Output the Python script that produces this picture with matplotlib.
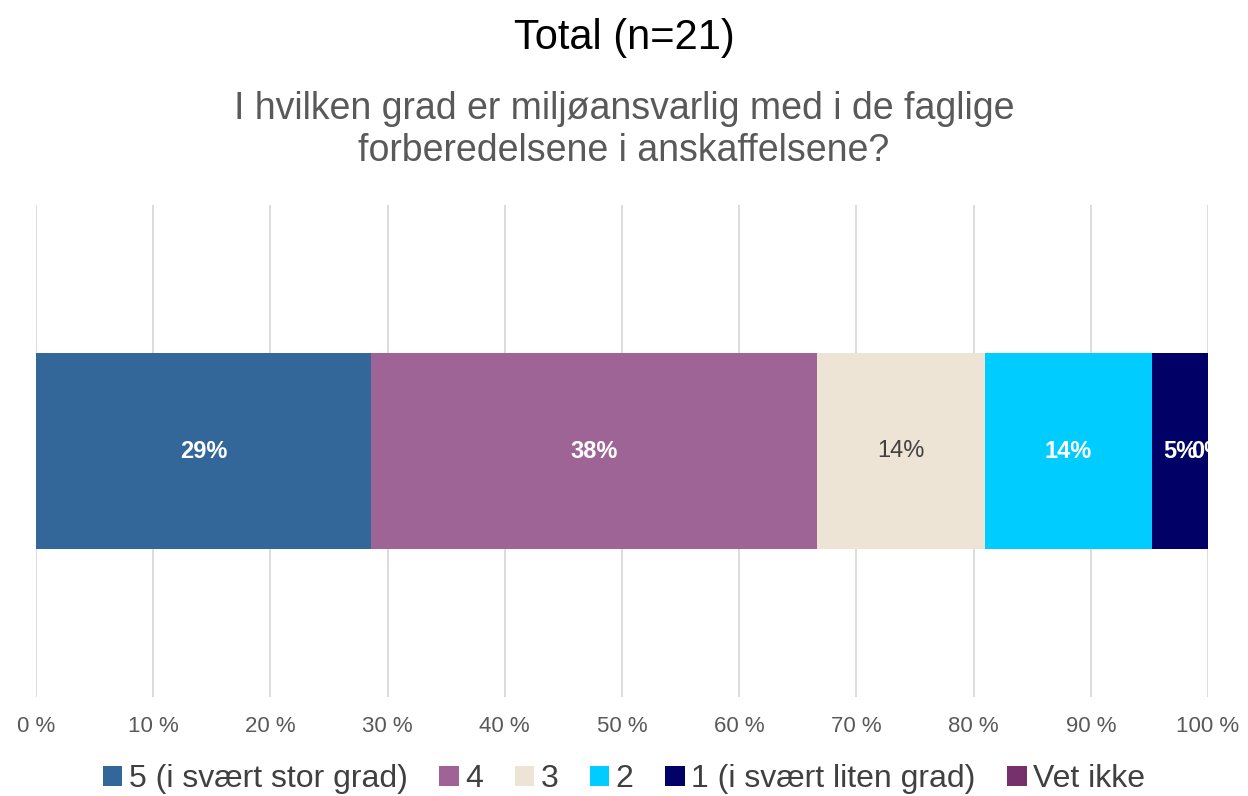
import matplotlib
matplotlib.use("Agg")
import matplotlib.pyplot as plt
from matplotlib.patches import Patch

plt.rcParams['font.family'] = ['Liberation Sans', 'DejaVu Sans']

categories = ["5 (i svært stor grad)", "4", "3", "2", "1 (i svært liten grad)", "Vet ikke"]
values = [28.57, 38.10, 14.29, 14.29, 4.76, 0.0]
labels = ["29%", "38%", "14%", "14%", "5%", "0%"]
colors = ["#336699", "#9E6496", "#EEE4D6", "#00CCFF", "#000066", "#76306E"]
label_colors = ["white", "white", "#404040", "white", "white", "white"]
label_bold = [True, True, False, True, True, True]
xticks = list(range(0, 101, 10))
xticklabels = [f"{t} %" for t in xticks]

W, H = 1248, 796
fig = plt.figure(figsize=(W / 100, H / 100), dpi=100)
ax = fig.add_axes([36 / W, (H - 697) / H, 1172 / W, 492 / H])

left = 0.0
for v, c, lab, lc, lb in zip(values, colors, labels, label_colors, label_bold):
    ax.barh(0, v, left=left, height=0.4, color=c, zorder=3)
    ax.text(left + v / 2, 0, lab, ha="center", va="center", color=lc,
            fontsize=17, fontweight="bold" if lb else "normal", zorder=4,
            clip_on=False)
    left += v

ax.set_xlim(0, 100)
ax.set_ylim(-0.5, 0.5)
ax.set_yticks([])
ax.set_xticks(xticks)
ax.set_xticklabels(xticklabels, fontsize=16, color="#595959")
ax.tick_params(axis="x", length=0, pad=14)
ax.grid(axis="x", color="#D9D9D9", linewidth=1.3, zorder=0)
for s in ax.spines.values():
    s.set_visible(False)

fig.text(0.5, 1 - 38 / H, "Total (n=21)", ha="center", va="center",
         fontsize=30, color="black")
fig.text(0.5, 1 - 130 / H,
         "I hvilken grad er miljøansvarlig med i de faglige\nforberedelsene i anskaffelsene?",
         ha="center", va="center", fontsize=27, color="#595959", linespacing=1.2)

handles = [Patch(facecolor=c, edgecolor="none") for c in colors]
leg = fig.legend(handles, categories, loc="center", bbox_to_anchor=(0.5, 1 - 779 / H),
                 ncol=6, frameon=False, fontsize=23, handlelength=0.6, handleheight=0.6,
                 handletextpad=0.2, columnspacing=1.0, labelcolor="#404040")

fig.savefig("out.png", dpi=100)
